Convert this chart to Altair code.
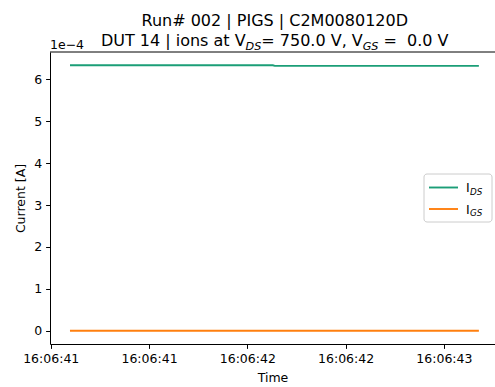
import altair as alt
import pandas as pd

# Measurement samples: seconds past 16:06:00, drain / gate current in A
t_sec = [41.098, 41.50, 41.90, 42.13, 42.14, 42.60, 43.00, 43.178]
i_ds = [6.335e-4, 6.335e-4, 6.335e-4, 6.335e-4, 6.32e-4, 6.32e-4, 6.32e-4, 6.32e-4]
i_gs = [1.0e-9, 1.0e-9, 1.0e-9, 1.0e-9, 1.0e-9, 1.0e-9, 1.0e-9, 1.0e-9]

series_names = ["IDS", "IGS"]
series_colors = ["#1b9e77", "#ff7f0e"]

y_ticks = [0, 1e-4, 2e-4, 3e-4, 4e-4, 5e-4, 6e-4]
x_ticks = [41.0, 41.5, 42.0, 42.5, 43.0]

rows = []
for name, vals in zip(series_names, [i_ds, i_gs]):
    for s, v in zip(t_sec, vals):
        rows.append({"sec": s, "current": v, "series": name})
df = pd.DataFrame(rows)

W, H = 445, 292
FONT = "DejaVu Sans"
NB = "\u00a0"

x_enc = alt.X(
    "sec:Q",
    title="Time",
    scale=alt.Scale(domain=[40.9964, 43.260], nice=False, zero=False),
    axis=alt.Axis(values=x_ticks,
                  labelExpr="'16:06:' + format(floor(datum.value), '02d')",
                  labelFlush=False, labelOverlap=False, labelBound=False,
                  titlePadding=7),
)
y_enc = alt.Y(
    "current:Q",
    title="Current [A]",
    scale=alt.Scale(domain=[-0.317e-4, 6.652e-4], nice=False, zero=False),
    axis=alt.Axis(values=y_ticks, labelExpr="format(datum.value * 10000, '.0f')",
                  titlePadding=6),
)

lines = alt.Chart(df).mark_line(strokeWidth=1.9).encode(
    x=x_enc,
    y=y_enc,
    color=alt.Color("series:N", scale=alt.Scale(domain=series_names, range=series_colors),
                    legend=None),
)

one = alt.Data(values=[{}])


def label(txt, x, y, size, italic=False, align="left"):
    return alt.Chart(one).mark_text(
        text=txt, font=FONT, fontSize=size, align=align, baseline="alphabetic",
        fontStyle="italic" if italic else "normal", color="black",
    ).encode(x=alt.value(x - 50), y=alt.value(y - 52))


# top spine
top_spine = alt.Chart(one).mark_rule(color="black", strokeWidth=1).encode(
    x=alt.value(0), x2=alt.value(W + 5), y=alt.value(0)
)

T = 16
S = T * 0.7
title_layers = [
    label("Run# 002 | PIGS | C2M0080120D", 274.75, 26, T, align="center"),
    label("DUT 14 | ions at V", 100.9, 46, T),
    label("DS", 245.6, 49.6, S, italic=True),
    label("=" + NB + "750.0 V, V", 261.3, 46, T),
    label("GS", 362.7, 49.6, S, italic=True),
    label("=" + NB + NB + "0.0 V", 383.4, 46, T),
    label("1e\u22124", 50, 49, 12.5),
]

# legend box
legend_box = alt.Chart(one).mark_rect(
    fill="white", fillOpacity=0.8, stroke="#cccccc", strokeWidth=1, cornerRadius=3
).encode(x=alt.value(424 - 50), x2=alt.value(492 - 50),
         y=alt.value(174 - 52), y2=alt.value(222 - 52))

legend_layers = [legend_box]
for i, (name, col) in enumerate(zip(series_names, series_colors)):
    yy = 187.5 + i * 21.5
    legend_layers.append(
        alt.Chart(one).mark_rule(color=col, strokeWidth=1.9).encode(
            x=alt.value(429 - 50), x2=alt.value(458 - 50), y=alt.value(yy - 52))
    )
    legend_layers.append(label("I", 466, yy + 4.5, 12.5))
    legend_layers.append(label(name[1:], 470, yy + 7.3, 12.5 * 0.7, italic=True))

chart = alt.layer(lines, top_spine, *title_layers, *legend_layers).properties(
    width=W, height=H,
    background="white",
    autosize=alt.AutoSizeParams(type="none"),
    padding={"left": 50, "top": 52, "right": 0, "bottom": 43},
).configure_view(stroke=None).configure_axis(
    grid=False,
    labelFont=FONT, labelFontSize=12.5, labelColor="black",
    titleFont=FONT, titleFontSize=12.5, titleColor="black", titleFontWeight="normal",
    tickColor="black", tickSize=4.4, tickWidth=1,
    domainColor="black", domainWidth=1, labelPadding=4,
)

chart.save("out.html", embed_options={"renderer": "svg", "actions": False})
